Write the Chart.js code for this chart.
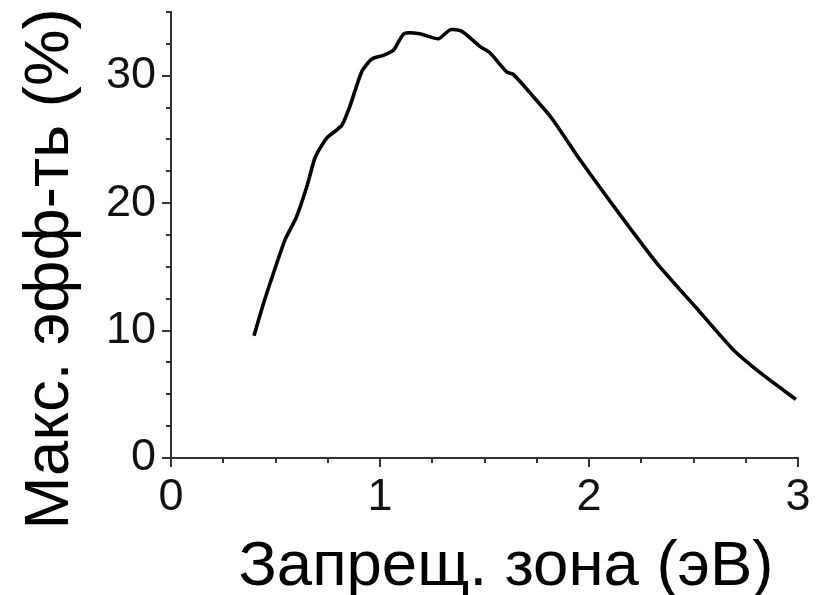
<!DOCTYPE html>
<html>
<head>
<meta charset="utf-8">
<script src="https://cdn.jsdelivr.net/npm/chart.js@4/dist/chart.umd.min.js"></script>
<style>
html,body{margin:0;padding:0;background:#fff;}
#wrap{width:825px;height:595px;position:relative;}
</style>
</head>
<body>
<div id="wrap"><canvas id="c"></canvas></div>
<script>
// Band gap (eV)
const bandGap = [0.397,0.442,0.49,0.545,0.60,0.65,0.69,0.745,0.817,0.856,0.912,0.96,1.016,1.064,1.115,1.19,1.28,1.335,1.39,1.478,1.526,1.606,1.638,1.726,1.82,1.957,2.148,2.324,2.515,2.69,2.834,2.99];
// Max efficiency (%)
const maxEfficiency = [9.6,12.1,14.5,17.1,18.9,21.3,23.6,25.1,26.1,27.6,30.3,31.3,31.6,32.0,33.3,33.3,32.9,33.6,33.5,32.3,31.8,30.3,30.1,28.5,26.7,23.4,19.1,15.3,11.75,8.5,6.5,4.6];
const xTickLabels = ['0','1','2','3'];
const yTickLabels = ['0','10','20','30'];
const xTitle = 'Запрещ. зона (эВ)';
const yTitle = 'Макс. эфф-ть (%)';

const FONT = '"Liberation Sans", Arial, sans-serif';
const AXIS = '#333';

const minorTicks = {
  id: 'minorTicks',
  afterDraw(chart) {
    const ctx = chart.ctx, xs = chart.scales.x, ys = chart.scales.y;
    const a = chart.chartArea;
    ctx.save();
    ctx.strokeStyle = AXIS; ctx.lineWidth = 2;
    for (let v = 0.25; v < 3; v += 0.25) {
      if (Math.abs(v - Math.round(v)) < 1e-6) continue;
      const px = Math.round(xs.getPixelForValue(v));
      ctx.beginPath(); ctx.moveTo(px, a.bottom); ctx.lineTo(px, a.bottom + 5); ctx.stroke();
    }
    for (let v = 2.5; v <= 35; v += 2.5) {
      if (Math.abs(v % 10) < 1e-6) continue;
      const py = Math.round(ys.getPixelForValue(v));
      ctx.beginPath(); ctx.moveTo(a.left, py); ctx.lineTo(a.left - 5, py); ctx.stroke();
    }
    ctx.restore();
  }
};

const axisTitles = {
  id: 'axisTitles',
  afterDraw(chart) {
    const ctx = chart.ctx;
    ctx.save();
    ctx.fillStyle = '#000';
    ctx.font = '63.5px ' + FONT;
    ctx.textAlign = 'center';
    ctx.textBaseline = 'alphabetic';
    ctx.fillText(xTitle, 506, 585);
    ctx.translate(68, 269);
    ctx.rotate(-Math.PI / 2);
    ctx.fillText(yTitle, 0, 0);
    ctx.restore();
  }
};

new Chart(document.getElementById('c'), {
  type: 'line',
  data: {
    datasets: [{
      data: bandGap.map((x, i) => ({x: x, y: maxEfficiency[i]})),
      borderColor: '#000',
      borderWidth: 3.6,
      pointRadius: 0,
      tension: 0.2,
      fill: false
    }]
  },
  options: {
    responsive: true,
    maintainAspectRatio: false,
    animation: false,
    layout: {padding: {top: 12, right: 27, left: 0, bottom: 0}},
    plugins: {legend: {display: false}, tooltip: {enabled: false}},
    scales: {
      x: {
        type: 'linear', min: 0, max: 3,
        afterFit(s) { s.height = 137; s.paddingLeft = 0; s.paddingRight = 0; },
        afterBuildTicks(s) { s.ticks = xTickLabels.map(t => ({value: Number(t)})); },
        ticks: {
          callback: (v) => xTickLabels.includes(String(v)) ? String(v) : '',
          font: {family: FONT, size: 45}, color: '#111', padding: 4, maxRotation: 0, autoSkip: false
        },
        grid: {display: true, drawOnChartArea: false, tickLength: 9, color: AXIS, lineWidth: 2},
        border: {display: true, color: AXIS, width: 2}
      },
      y: {
        type: 'linear', min: 0, max: 35,
        afterFit(s) { s.width = 171; s.paddingTop = 0; s.paddingBottom = 0; },
        afterBuildTicks(s) { s.ticks = yTickLabels.map(t => ({value: Number(t)})); },
        ticks: {
          callback: (v) => yTickLabels.includes(String(v)) ? String(v) : '',
          font: {family: FONT, size: 45}, color: '#111', padding: 6, autoSkip: false
        },
        grid: {display: true, drawOnChartArea: false, tickLength: 9, color: AXIS, lineWidth: 2},
        border: {display: true, color: AXIS, width: 2}
      }
    }
  },
  plugins: [minorTicks, axisTitles]
});
</script>
</body>
</html>
